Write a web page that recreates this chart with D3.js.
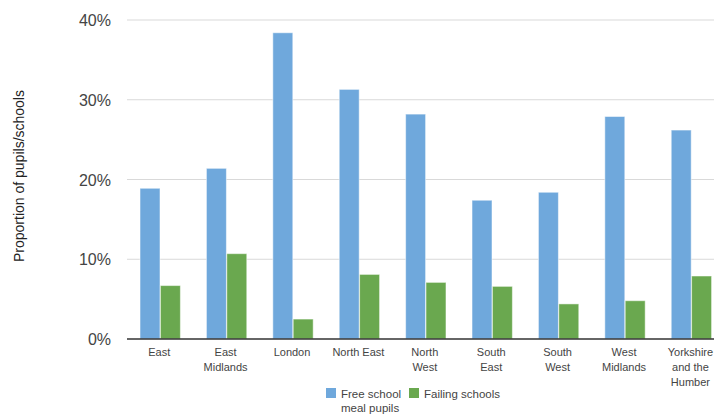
<!DOCTYPE html>
<html>
<head>
<meta charset="utf-8">
<script src="https://cdnjs.cloudflare.com/ajax/libs/d3/7.8.5/d3.min.js"></script>
<style>
  body { margin: 0; background: #fff; }
  svg { display: block; font-family: Arial, "Liberation Sans", sans-serif; }
</style>
</head>
<body>
<div id="container"></div>
<script>
var regions = ["East", "East Midlands", "London", "North East", "North West", "South East", "South West", "West Midlands", "Yorkshire and the Humber"]
var regionLines = [["East"], ["East", "Midlands"], ["London"], ["North East"], ["North", "West"], ["South", "East"], ["South", "West"], ["West", "Midlands"], ["Yorkshire", "and the", "Humber"]]
var seriesNames = ["Free school meal pupils", "Failing schools"]
var fsmPupils = [18.9, 21.4, 38.4, 31.3, 28.2, 17.4, 18.4, 27.9, 26.2]
var failingSchools = [6.7, 10.7, 2.5, 8.1, 7.1, 6.6, 4.4, 4.8, 7.9]
var yTicks = [0, 10, 20, 30, 40]
var colours = ["#6fa8dc", "#6aa84f"]

function drawChart() {
  var width = 714
  var height = 414
  var svg = d3.select("#container")
    .append("svg")
    .attr("width", width)
    .attr("height", height)

  var rows = regions.map(function(r, i) {
    return { region: r, lines: regionLines[i], values: [fsmPupils[i], failingSchools[i]] }
  })

  // chart runs off the right edge, like the original
  var x0 = d3.scaleBand()
    .domain(regions)
    .range([127, 724.6])
    .paddingInner(0.38)
    .paddingOuter(0.19)

  var x1 = d3.scaleBand()
    .domain(seriesNames)
    .range([0, x0.bandwidth()])
    .padding(0.02)

  var y = d3.scaleLinear()
    .domain([0, 40])
    .range([339, 20])

  // gridlines
  svg.append("g")
    .selectAll("line")
    .data(yTicks.filter(function(t) { return t > 0 }))
    .enter()
    .append("line")
    .attr("x1", 127)
    .attr("x2", width)
    .attr("y1", (d) => y(d))
    .attr("y2", (d) => y(d))
    .attr("stroke", "#d9d9d9")
    .attr("stroke-width", 1)

  // y tick labels
  svg.append("g")
    .selectAll("text")
    .data(yTicks)
    .enter()
    .append("text")
    .attr("x", 111)
    .attr("y", (d) => y(d) + 6)
    .attr("text-anchor", "end")
    .attr("fill", "#444")
    .style("font-size", "16px")
    .text((d) => d + "%")

  // bars
  svg.append("g")
    .selectAll("g")
    .data(rows)
    .enter()
    .append("g")
    .attr("transform", (d) => "translate(" + x0(d.region) + ",0)")
    .selectAll("rect")
    .data((d) => d.values.map(function(v, j) { return { key: seriesNames[j], value: v, idx: j } }))
    .enter()
    .append("rect")
    .attr("x", (d) => x1(d.key))
    .attr("width", x1.bandwidth())
    .attr("y", (d) => y(d.value))
    .attr("height", (d) => y(0) - y(d.value))
    .style("fill", (d) => colours[d.idx])
    .attr("stroke", "#ffffff")
    .attr("stroke-opacity", 0.5)
    .style("stroke-width", 1)

  // baseline
  svg.append("line")
    .attr("x1", 127)
    .attr("x2", width)
    .attr("y1", y(0))
    .attr("y2", y(0))
    .attr("stroke", "#333")
    .attr("stroke-width", 1.5)

  // category labels
  var cat = svg.append("g")
    .selectAll("text")
    .data(rows)
    .enter()
    .append("text")
    .attr("text-anchor", "middle")
    .attr("fill", "#444")
    .style("font-size", "11px")
    .attr("transform", (d) => "translate(" + (x0(d.region) + x0.bandwidth() / 2 - 1) + ",356)")

  cat.selectAll("tspan")
    .data((d) => d.lines)
    .enter()
    .append("tspan")
    .attr("x", 0)
    .attr("y", (d, i) => i * 15)
    .text((d) => d)

  // y axis title
  svg.append("text")
    .attr("transform", "translate(24,176) rotate(-90)")
    .attr("text-anchor", "middle")
    .attr("fill", "#222")
    .style("font-size", "14px")
    .text("Proportion of pupils/schools")

  // legend
  var legendItems = [
    { x: 326, lines: ["Free school", "meal pupils"], colour: colours[0] },
    { x: 409, lines: ["Failing schools"], colour: colours[1] }
  ]
  var legend = svg.append("g")
    .selectAll("g")
    .data(legendItems)
    .enter()
    .append("g")
    .attr("transform", (d) => "translate(" + d.x + ",388)")

  legend.append("rect")
    .attr("width", 10)
    .attr("height", 10)
    .style("fill", (d) => d.colour)

  legend.append("text")
    .attr("fill", "#444")
    .style("font-size", "11.5px")
    .selectAll("tspan")
    .data((d) => d.lines)
    .enter()
    .append("tspan")
    .attr("x", 15)
    .attr("y", (d, i) => 10 + i * 14)
    .text((d) => d)
}

drawChart()
</script>
</body>
</html>
